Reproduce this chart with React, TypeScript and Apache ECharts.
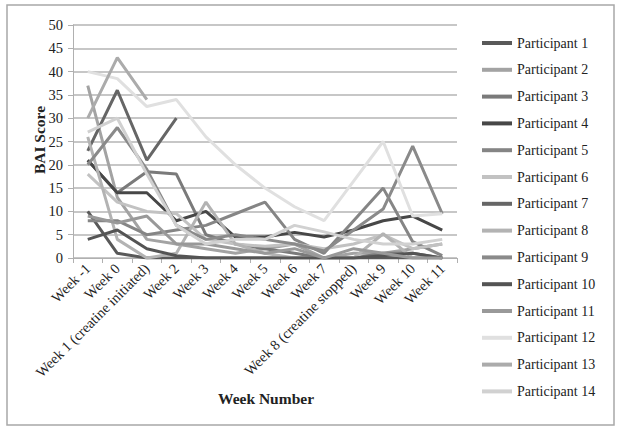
import React, { useEffect, useRef } from "react";
import * as echarts from "echarts";

const categories = [
  "Week -1", "Week 0", "Week 1 (creatine initiated)", "Week 2", "Week 3", "Week 4",
  "Week 5", "Week 6", "Week 7", "Week 8 (creatine stopped)", "Week 9", "Week 10", "Week 11",
];

const yTicks = [0, 5, 10, 15, 20, 25, 30, 35, 40, 45, 50];

const participantNames = [
  "Participant 1", "Participant 2", "Participant 3", "Participant 4", "Participant 5",
  "Participant 6", "Participant 7", "Participant 8", "Participant 9", "Participant 10",
  "Participant 11", "Participant 12", "Participant 13", "Participant 14",
];

const p1 = [10, 1, 0, 0, 0, 0, 0, 0, 0, 0, 0, 0, 0];
const p2 = [37, 13, 4, 3, 2, 1, 2, 3, 0, 1, 1, 2, 3];
const p3 = [21, 14, 18.5, 18, 5, 3, 2, 1, 0, 0, 1, 1, 0];
const p4 = [21, 14, 14, 8, 10, 4.5, 4.5, 5.5, 4.5, 6, 8, 9, 6];
const p5 = [8, 8, 5, 6, 7, 9.5, 12, 4, 1, 8, 15, 3.5, 0.5];
const p6 = [18, 12, 10, 9.5, 4, 3, 2.5, 3, 2, 3, 5, 2, 3];
const p7 = [23, 36, 21, 30, null, null, null, null, null, null, null, null, null];
const p8 = [26, 4, 0, 1, 12, 3, 1, 0, 0, 0, 5.2, 0, 0];
const p9 = [20, 28, 19, 7, 4, 5, 4, 3, 1.5, 6, 10.5, 24, 9.5];
const p10 = [4, 6, 2, 0.5, 0, 0, 0, 0, 0, 0, 0.5, 1, 0];
const p11 = [9, 7.5, 9, 3, 3, 2, 1, 2, 0, 2, 1, 0, 0];
const p12 = [40, 38.5, 32.5, 34, 26, 20, 15, 11, 8, 16.5, 25, 9, 9.5];
const p13 = [30, 43, 34, null, null, null, null, null, null, null, null, null, null];
const p14 = [27, 30, 18, 7, 3, 4, 4, 7, 5.6, 4, 3, 3, 4];

const seriesValues = [p1, p2, p3, p4, p5, p6, p7, p8, p9, p10, p11, p12, p13, p14];

const seriesColors = [
  "#595959", "#a3a3a3", "#7a7a7a", "#474747", "#858585", "#c2c2c2", "#666666",
  "#b3b3b3", "#8a8a8a", "#545454", "#999999", "#e0e0e0", "#ababab", "#d1d1d1",
];

const FONT = '"Liberation Serif", "Times New Roman", serif';

export default function App() {
  const ref = useRef<HTMLDivElement>(null);
  useEffect(() => {
    if (!ref.current) return;
    const chart = echarts.init(ref.current, undefined, { renderer: "svg" });
    chart.setOption({
      animation: false,
      textStyle: { fontFamily: FONT },
      grid: { left: 73, right: 164, top: 25, bottom: 175, containLabel: false },
      legend: {
        orient: "vertical",
        left: 482,
        top: 35,
        padding: 0,
        itemWidth: 30,
        itemHeight: 4,
        itemGap: 10.8,
        icon: "rect",
        textStyle: { fontFamily: FONT, fontSize: 14, color: "#222", lineHeight: 16 },
        data: participantNames,
      },
      xAxis: {
        type: "category",
        data: categories,
        boundaryGap: true,
        axisLine: { lineStyle: { color: "#b0b0b0", width: 1 } },
        axisTick: { show: true, length: 5, lineStyle: { color: "#b0b0b0" } },
        axisLabel: {
          rotate: 45,
          interval: 0,
          margin: 8,
          fontFamily: FONT,
          fontSize: 14.5,
          color: "#222",
        },
      },
      yAxis: {
        type: "value",
        min: 0,
        max: 50,
        interval: 5,
        axisLine: { show: true, lineStyle: { color: "#b0b0b0", width: 1 } },
        axisTick: { show: true, length: 5, lineStyle: { color: "#b0b0b0" } },
        axisLabel: {
          margin: 10,
          fontFamily: FONT,
          fontSize: 14.5,
          color: "#222",
          formatter: (v: number) => (yTicks.includes(v) ? String(v) : ""),
        },
        splitLine: { lineStyle: { color: "#b5b5b5", width: 1.5 } },
      },
      series: seriesValues.map((vals, i) => ({
        name: participantNames[i],
        type: "line",
        data: vals,
        symbol: "none",
        connectNulls: false,
        itemStyle: { color: seriesColors[i] },
        lineStyle: { color: seriesColors[i], width: 3 },
      })),
      graphic: [
        {
          type: "rect",
          shape: { x: 7, y: 5, width: 607, height: 420 },
          style: { fill: "none", stroke: "#a8a8a8", lineWidth: 1.5 },
          silent: true,
        },
        {
          type: "text",
          x: 39,
          y: 140,
          rotation: Math.PI / 2,
          style: {
            text: "BAI Score",
            fontFamily: FONT,
            fontSize: 15.5,
            fontWeight: "bold",
            fill: "#222",
            align: "center",
            verticalAlign: "middle",
          },
        },
        {
          type: "text",
          x: 266,
          y: 398,
          style: {
            text: "Week Number",
            fontFamily: FONT,
            fontSize: 15.5,
            fontWeight: "bold",
            fill: "#222",
            align: "center",
            verticalAlign: "middle",
          },
        },
      ],
    });
    return () => chart.dispose();
  }, []);
  return (
    <div
      ref={ref}
      style={{ position: "absolute", left: 0, top: 0, width: 621, height: 433, background: "#fff" }}
    />
  );
}
